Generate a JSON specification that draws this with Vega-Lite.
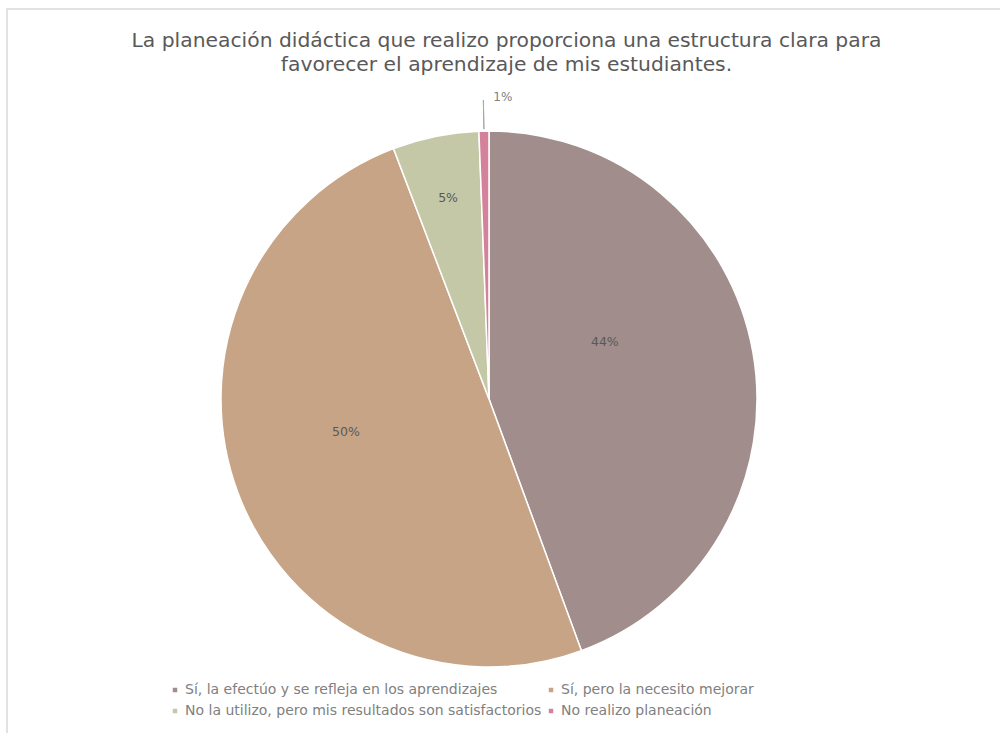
{
  "$schema": "https://vega.github.io/schema/vega-lite/v6.json",
  "autosize": {"type": "fit", "contains": "padding"},
  "width": 1000,
  "height": 733,
  "padding": {"left": 7, "top": 9, "right": -6, "bottom": -6},
  "background": "white",
  "view": {"stroke": "#d9d9d9", "strokeWidth": 1.5},
  "title": {
    "text": ["La planeación didáctica que realizo proporciona una estructura clara para", "favorecer el aprendizaje de mis estudiantes."],
    "font": "DejaVu Sans",
    "fontSize": 20.3,
    "fontWeight": "normal",
    "color": "#595959",
    "anchor": "middle",
    "frame": "group",
    "baseline": "top",
    "offset": -66,
    "lineHeight": 24
  },
  "data": {
    "values": [
      {"respuesta": "Sí, la efectúo y se refleja en los aprendizajes", "orden": 1, "porcentaje": 44.4, "etiqueta": "44%"},
      {"respuesta": "Sí, pero la necesito mejorar", "orden": 2, "porcentaje": 49.8, "etiqueta": "50%"},
      {"respuesta": "No la utilizo, pero mis resultados son satisfactorios", "orden": 3, "porcentaje": 5.2, "etiqueta": "5%"},
      {"respuesta": "No realizo planeación", "orden": 4, "porcentaje": 0.6, "etiqueta": "1%"}
    ]
  },
  "encoding": {
    "theta": {"field": "porcentaje", "type": "quantitative", "stack": true},
    "order": {"field": "orden", "type": "quantitative"}
  },
  "layer": [
    {
      "mark": {"type": "arc", "outerRadius": 268, "stroke": "white", "strokeWidth": 1.5, "x": 482, "y": 390},
      "encoding": {
        "color": {
          "field": "respuesta",
          "type": "nominal",
          "sort": ["Sí, la efectúo y se refleja en los aprendizajes", "Sí, pero la necesito mejorar", "No la utilizo, pero mis resultados son satisfactorios", "No realizo planeación"],
          "scale": {
            "domain": ["Sí, la efectúo y se refleja en los aprendizajes", "Sí, pero la necesito mejorar", "No la utilizo, pero mis resultados son satisfactorios", "No realizo planeación"],
            "range": ["#A08D8C", "#C7A485", "#C4C8A6", "#D4819C"]
          },
          "legend": {
            "title": null,
            "orient": "none",
            "legendX": 161,
            "legendY": 674,
            "direction": "horizontal",
            "columns": 2,
            "symbolType": "square",
            "symbolSize": 20,
            "symbolStrokeWidth": 0,
            "labelFont": "DejaVu Sans",
            "labelFontSize": 14,
            "labelColor": "#808080",
            "labelLimit": 500,
            "columnPadding": 2,
            "rowPadding": 7,
            "labelOffset": 3
          }
        }
      }
    },
    {
      "mark": {"type": "arc", "innerRadius": 270, "outerRadius": 299, "padAngle": 0.3, "filled": false, "stroke": "#a6a6a6", "strokeWidth": 1, "x": 482, "y": 390},
      "encoding": {
        "strokeOpacity": {"condition": {"test": "datum.orden == 4", "value": 1}, "value": 0}
      }
    },
    {
      "mark": {"type": "text", "radius": 140, "font": "DejaVu Sans", "fontSize": 12.5, "fill": "#595959", "x": 482, "y": 390, "dx": -22, "dy": -32},
      "encoding": {
        "text": {"condition": {"test": "datum.orden == 1", "field": "etiqueta"}, "value": ""}
      }
    },
    {
      "mark": {"type": "text", "radius": 140, "font": "DejaVu Sans", "fontSize": 12.5, "fill": "#595959", "x": 482, "y": 390, "dx": -12, "dy": -16},
      "encoding": {
        "text": {"condition": {"test": "datum.orden == 2", "field": "etiqueta"}, "value": ""}
      }
    },
    {
      "mark": {"type": "text", "radius": 205, "font": "DejaVu Sans", "fontSize": 12.5, "fill": "#595959", "x": 482, "y": 390},
      "encoding": {
        "text": {"condition": {"test": "datum.orden == 3", "field": "etiqueta"}, "value": ""}
      }
    },
    {
      "mark": {"type": "text", "radius": 302, "font": "DejaVu Sans", "fontSize": 12, "fill": "#7f7f7f", "align": "left", "dx": 10, "x": 482, "y": 390},
      "encoding": {
        "text": {"condition": {"test": "datum.orden == 4", "field": "etiqueta"}, "value": ""}
      }
    }
  ]
}
